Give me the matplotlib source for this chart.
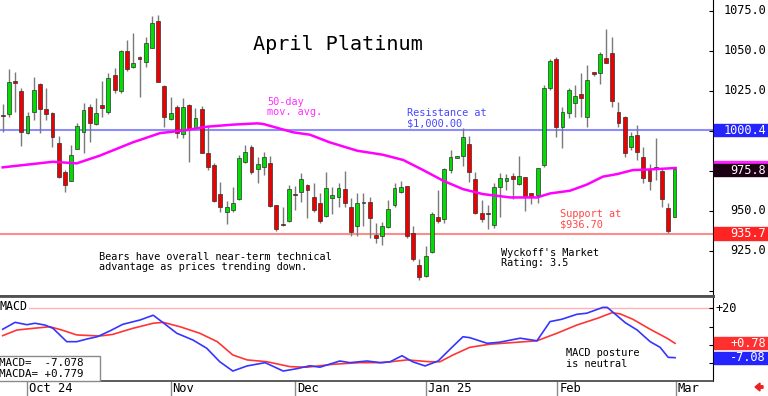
import numpy as np
import matplotlib.pyplot as plt
from matplotlib.patches import Rectangle, FancyArrow

# daily OHLC (one bar per trading day)
opens = [1009.5, 1010.2, 1031.0, 1024.8, 998.3, 1011.9, 1029.2, 1013.3, 1010.8, 992.5,
         974.4, 968.7, 988.3, 999.4, 1014.6, 1004.0, 1015.8, 1011.4, 1034.8, 1025.0,
         1050.0, 1039.6, 1046.2, 1043.1, 1052.0, 1068.7, 1028.1, 1007.1, 1015.0, 997.9,
         1016.2, 1001.4, 1013.3, 986.2, 978.5, 960.4, 949.4, 950.4, 957.1, 980.6,
         990.0, 975.8, 977.1, 979.6, 953.5, 941.2, 943.7, 960.4, 961.7, 966.0,
         958.7, 954.6, 946.6, 958.1, 958.7, 963.3, 952.1, 940.4, 954.6, 955.6,
         934.6, 934.2, 940.0, 953.5, 961.9, 965.4, 935.8, 916.0, 909.2, 924.4,
         945.8, 944.6, 975.4, 983.2, 984.2, 991.7, 969.6, 948.7, 948.7, 941.0,
         964.6, 968.7, 971.7, 966.6, 970.8, 961.2, 959.8, 978.5, 1026.4, 1044.6,
         1002.1, 1011.2, 1017.5, 1022.9, 1008.3, 1035.8, 1036.2, 1045.2, 1048.3, 1011.9,
         1008.7, 989.6, 997.3, 983.7, 975.8, 977.5, 975.0, 951.4, 946.2]
highs = [1017.0, 1038.3, 1036.9, 1027.0, 1011.9, 1033.7, 1029.6, 1026.4, 1011.9, 996.6,
         975.4, 991.0, 1004.6, 1017.5, 1016.7, 1020.2, 1031.2, 1036.2, 1039.0, 1050.5,
         1057.0, 1061.2, 1046.5, 1058.7, 1071.6, 1072.3, 1028.5, 1021.2, 1016.0, 1020.2,
         1016.7, 1013.9, 1015.4, 1002.5, 979.6, 968.1, 956.2, 964.6, 984.8, 991.0,
         991.0, 983.7, 986.9, 984.1, 953.5, 952.1, 966.0, 965.4, 973.7, 966.6,
         967.1, 960.8, 974.4, 965.0, 967.5, 975.0, 957.7, 960.8, 961.2, 958.7,
         942.1, 943.1, 956.6, 967.1, 968.7, 965.4, 940.4, 919.6, 927.9, 949.4,
         962.9, 976.4, 987.9, 984.0, 1001.4, 996.6, 974.4, 956.6, 953.5, 967.5,
         973.3, 972.9, 973.3, 984.2, 970.8, 961.2, 976.4, 1028.5, 1044.6, 1045.8,
         1014.6, 1026.4, 1028.5, 1035.8, 1041.0, 1037.0, 1049.4, 1063.3, 1058.3, 1018.1,
         1009.2, 999.4, 1003.5, 990.0, 979.1, 995.2, 975.8, 955.0, 975.8]
lows = [999.4, 1008.7, 1011.9, 990.4, 997.9, 1006.6, 998.7, 1006.6, 990.0, 970.2,
        961.9, 968.7, 988.3, 985.8, 993.1, 1003.5, 1008.7, 1010.4, 1023.3, 1023.3,
        1037.5, 1039.0, 1021.2, 1040.0, 1052.0, 1030.6, 1002.5, 1006.6, 995.2, 995.2,
        980.6, 1000.4, 986.0, 975.4, 955.6, 949.4, 941.6, 949.4, 956.6, 979.6,
        972.9, 967.5, 972.3, 952.1, 937.5, 940.4, 943.1, 950.4, 955.6, 945.2,
        949.4, 942.1, 946.2, 947.9, 952.5, 952.5, 934.2, 934.2, 940.4, 932.7,
        929.6, 928.5, 939.0, 952.1, 960.8, 932.7, 918.7, 906.6, 908.7, 923.7,
        942.1, 942.1, 973.3, 982.8, 977.9, 968.1, 947.9, 943.1, 938.3, 939.0,
        946.2, 962.9, 957.1, 966.0, 950.0, 954.2, 955.0, 977.5, 1025.4, 995.8,
        988.9, 1007.7, 1008.3, 1008.3, 1002.5, 1034.5, 1029.2, 1042.1, 1015.0, 1002.5,
        983.7, 987.9, 981.7, 967.1, 962.9, 969.1, 952.5, 936.2, 945.8]
closes = [1009.0, 1030.6, 1029.7, 999.4, 1009.2, 1025.4, 1013.7, 1010.6, 996.2, 970.8,
          966.0, 984.8, 1003.1, 1012.9, 1005.0, 1011.2, 1014.4, 1032.7, 1025.4, 1050.0,
          1038.3, 1042.5, 1044.8, 1055.0, 1067.5, 1030.6, 1008.3, 1011.2, 998.7, 1015.0,
          1000.8, 1007.7, 986.2, 977.5, 956.2, 952.1, 952.1, 954.6, 982.7, 986.9,
          974.4, 979.1, 983.7, 953.0, 938.3, 940.8, 963.3, 959.6, 969.6, 962.9,
          950.4, 943.7, 963.9, 959.8, 963.9, 954.6, 936.9, 954.6, 955.4, 945.2,
          932.9, 940.4, 950.8, 963.9, 965.0, 934.2, 919.6, 908.7, 921.7, 947.9,
          943.7, 975.8, 983.7, 983.6, 995.8, 974.4, 948.7, 944.6, 947.9, 964.6,
          970.2, 970.2, 969.6, 971.7, 959.2, 958.7, 976.4, 1026.4, 1043.7, 1002.1,
          1011.9, 1025.4, 1021.7, 1020.2, 1031.7, 1035.5, 1047.9, 1042.5, 1018.7, 1005.0,
          985.8, 996.6, 986.9, 970.2, 968.7, 976.2, 957.1, 937.5, 975.8]

# 50-day moving average (bar index, value)
ma_idx = [0, 8.1, 11.9, 15.6, 20.9, 25.3, 29.6, 32.8, 37, 40.9, 41.9, 46.7, 49.4, 52.6,
          57, 61.1, 64.4, 67.6, 70.8, 74, 77.2, 81.6, 85.9, 88, 91.2, 93.9, 96.5, 98.8,
          101.3, 104.1, 108.2]
ma_val = [977.1, 980.6, 979.6, 984.4, 992.7, 998.5, 1000.4, 1002.5, 1003.8, 1004.6, 1004.2,
          999.0, 997.5, 992.7, 987.5, 985.0, 981.7, 975.4, 968.8, 963.5, 960.4, 958.3,
          958.3, 960.8, 962.5, 966.3, 971.3, 972.9, 975.4, 975.8, 976.7]

# MACD (blue) and MACDA signal (red)
macd_idx = [0, 2, 3.9, 5.2, 6.8, 8.1, 10.3, 11.9, 13.6, 15.2, 17.3, 19.3, 22.1, 24.2, 25.8,
            28, 30.6, 32.8, 34.9, 37, 39.3, 42.2, 45.1, 47.3, 49.4, 51, 54.2, 55.8, 58.6,
            60.7, 62.3, 64.2, 65.9, 67.9, 70, 71.9, 74, 75.1, 77.9, 79.9, 83.2, 85.9, 88,
            89.9, 92.3, 93.9, 96.5, 97.2, 100.1, 102, 104.1, 105.7, 107, 108.1]
macd_val = [8.5, 12.3, 11.0, 11.8, 10.8, 9.0, 1.7, 1.7, 3.2, 4.4, 7.7, 11.2, 13.6, 16.2, 12.1,
            6.3, 2.6, -1.9, -9.3, -14.4, -11.6, -9.8, -14.4, -13.1, -11.5, -12.3, -8.9, -9.8,
            -8.9, -9.8, -9.3, -6.0, -9.3, -11.6, -8.9, -2.5, 4.4, 3.9, 0.8, 1.4, 3.6, 2.2,
            12.7, 14.0, 16.7, 17.3, 20.5, 20.5, 12.1, 8.1, 1.7, -1.4, -6.9, -7.08]
sig_idx = [0, 2.3, 4.9, 7.6, 9.5, 11.9, 15.6, 17.7, 20.9, 24.2, 25.8, 28.5, 31.7, 34.5, 37,
           39.3, 42.5, 46.2, 48.9, 53.1, 57.4, 61.1, 65, 68.7, 70.3, 72.4, 75.1, 78.3, 81.6,
           85.9, 89.1, 92.3, 95.6, 98, 99.3, 101.3, 104.1, 106.8, 108.1]
sig_val = [5.0, 8.1, 9.0, 9.9, 8.1, 5.4, 4.8, 5.7, 9.0, 11.8, 12.3, 9.9, 6.3, 1.7, -5.6,
           -8.3, -9.3, -12.0, -12.3, -10.7, -9.8, -9.8, -8.3, -9.3, -9.3, -5.6, -1.4, 0.3, 1.1,
           2.2, 6.3, 10.8, 14.5, 17.6, 16.9, 14.0, 8.5, 3.6, 0.78]

month_pos = [3.95, 27.0, 47.0, 68.05, 89.2, 108.2]
month_lbl = ['Oct 24', 'Nov', 'Dec', 'Jan 25', 'Feb', 'Mar']
price_ticks = [900, 925, 950, 975, 1000, 1025, 1050, 1075]
price_lbls = [925, 950, 1025, 1050, 1075]

resistance = 1000.4
support = 935.7
last_close = closes[-1]
last_ma = 977.7
macd_last = -7.08
sig_last = 0.78

W, H = 768, 396
MONO = 'DejaVu Sans Mono'

fig = plt.figure(figsize=(W / 100, H / 100), dpi=100)
ax = fig.add_axes([0, 1 - 296 / H, 713 / W, 296 / H])
ax2 = fig.add_axes([0, 1 - 381 / H, 713 / W, 85 / H])

def px(x, y):
    return x / W, 1 - y / H

# --- price panel ---
ax.set_xlim(-0.43, 114.2)
ax.set_ylim(896.7, 1081.7)

ax.axhline(resistance, color='#8c8cff', lw=1.5, zorder=1)
ax.axhline(support, color='#ff8c8c', lw=1.5, zorder=1)

o = np.array(opens); h = np.array(highs); l = np.array(lows); c = np.array(closes)
x = np.arange(len(o))
up = c >= o
ax.vlines(x, l, h, color='#7a7a7a', lw=1, zorder=2)
body = np.maximum(np.abs(c - o), 0.9)
ax.bar(x, body, bottom=np.minimum(o, c), width=0.62,
       color=np.where(up, '#00dd00', '#ee0000'), edgecolor='#303030', linewidth=0.5, zorder=3)

ax.plot(ma_idx, ma_val, color='#ff00ff', lw=1.8, zorder=4)

for s in ['left', 'top']:
    ax.spines[s].set_visible(False)
ax.spines['bottom'].set_color('#505050')
ax.spines['bottom'].set_linewidth(2)
ax.spines['right'].set_color('black')
ax.set_xticks([])
ax.yaxis.tick_right()
ax.set_yticks(price_ticks)
ax.tick_params(axis='y', direction='in', length=3, labelright=False, labelleft=False)

ytr = ax.get_yaxis_transform()
for v in price_lbls:
    ax.text(1.0743, v, f'{v:.1f}', transform=ytr, ha='right', va='center',
            fontsize=8.6, family=MONO, clip_on=False)

def tag(axis, val, text, bg, hh):
    tr = axis.get_yaxis_transform()
    axis.add_patch(Rectangle((1.0015, val - hh), 0.077, 2 * hh, transform=tr,
                             color=bg, clip_on=False, zorder=5))
    if text:
        axis.text(1.0743, val, text, transform=tr, ha='right', va='center', color='white',
                  fontsize=8.6, family=MONO, clip_on=False, zorder=6)

tag(ax, resistance, f'{resistance:.1f}', '#2424ff', 3.9)
# moving-average tag sits mostly hidden behind the last-price tag
tag(ax, last_ma, None, '#ff22ff', 3.6)
tag(ax, last_close - 0.4, f'{last_close:.1f}', '#1a0012', 3.7)
tag(ax, support, f'{support:.1f}', '#ff2424', 3.9)

fig.text(*px(338, 45), 'April Platinum', ha='center', va='center', fontsize=14.5, family=MONO)

ann = dict(fontsize=7.4, family=MONO, va='center', ha='left', linespacing=1.1)
fig.text(*px(267, 107), '50-day\nmov. avg.', color='#ff30ff', **ann)
fig.text(*px(407, 118), 'Resistance at\n$1,000.00', color='#4848ff', **ann)
fig.text(*px(560, 219.5), 'Support at\n$936.70', color='#ff4848', **ann)
fig.text(*px(99, 262), 'Bears have overall near-term technical\nadvantage as prices trending down.',
         color='black', **ann)
fig.text(*px(501, 258), "Wyckoff's Market\nRating: 3.5", color='black', **ann)

# --- MACD panel ---
ax2.set_xlim(-0.43, 114.2)
ax2.set_ylim(-19.86, 26.74)
ax2.axhline(20, color='#ffb0b0', lw=1, zorder=1)
ax2.plot(sig_idx, sig_val, color='#ff3535', lw=1.2, zorder=3)
ax2.plot(macd_idx, macd_val, color='#3535ff', lw=1.2, zorder=3)

ax2.spines['left'].set_visible(False)
ax2.spines['top'].set_color('#505050')
ax2.spines['top'].set_linewidth(2)
ax2.spines['bottom'].set_color('#404040')
ax2.spines['bottom'].set_linewidth(1.2)
ax2.spines['right'].set_color('black')
ax2.yaxis.tick_right()
ax2.set_yticks([-10, 0, 10, 20])
ax2.tick_params(axis='y', direction='in', length=3, labelright=False, labelleft=False)
ax2.set_xticks(month_pos)
ax2.tick_params(axis='x', direction='out', length=11, color='#8a8a8a', width=1, labelbottom=False)

xtr = ax2.get_xaxis_transform()
for pos, lbl in zip(month_pos, month_lbl):
    ax2.text(pos + 0.3, -0.085, lbl, transform=xtr, ha='left', va='center',
             fontsize=8.7, family=MONO, clip_on=False)

ax2.text(1.004, 20, '+20', transform=ax2.get_yaxis_transform(), ha='left', va='center',
         fontsize=8.6, family=MONO, clip_on=False)
tag(ax2, sig_last, f'+{sig_last:.2f}', '#ff3030', 3.3)
tag(ax2, macd_last, f'{macd_last:.2f}', '#2424ff', 3.3)

ax2.text(0.0, 0.88, 'MACD', transform=ax2.transAxes, ha='left', va='center', fontsize=8.4,
         family=MONO, zorder=5, bbox=dict(facecolor='white', edgecolor='none', pad=0.6))
ax2.add_patch(Rectangle((-0.01, 0.0), 0.150, 0.294, transform=ax2.transAxes,
                        facecolor='white', edgecolor='#8a8a8a', lw=1, zorder=5, clip_on=False))
ax2.text(-0.002, 0.147, f'MACD=  {-7.078:.3f}\nMACDA= {0.779:+.3f}', transform=ax2.transAxes,
         ha='left', va='center', fontsize=7.8, family=MONO, linespacing=1.05, zorder=6)
fig.text(*px(566, 358.5), 'MACD posture\nis neutral', color='black', **ann)

fig.add_artist(FancyArrow(763 / W, 1 - 387 / H, -8 / W, 0, width=2.5 / H, head_width=8 / H,
                          head_length=5 / W, length_includes_head=True,
                          transform=fig.transFigure, color='#ee2020'))

fig.savefig('out.png', dpi=100)
